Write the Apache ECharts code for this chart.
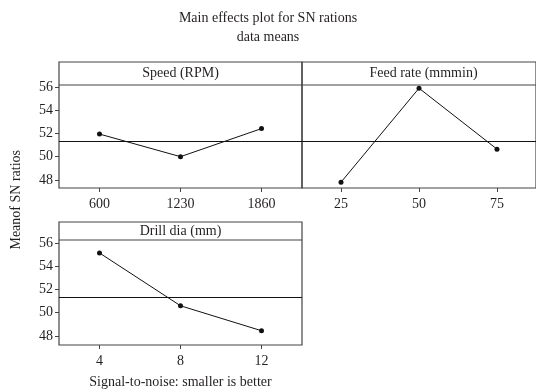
<!DOCTYPE html>
<html>
<head>
<meta charset="utf-8">
<script src="https://cdn.jsdelivr.net/npm/echarts@6/dist/echarts.min.js"></script>
<style>html,body{margin:0;padding:0;background:#fff}#c{width:536px;height:391px}</style>
</head>
<body>
<div id="c"></div>
<script>
// Data
const speedCats = ['600', '1230', '1860'];
const speedVals = [51.95, 50.0, 52.42];
const feedCats = ['25', '50', '75'];
const feedVals = [47.8, 55.9, 50.65];
const drillCats = ['4', '8', '12'];
const drillVals = [55.15, 50.6, 48.45];
const yTicks = [48, 50, 52, 54, 56];
const grandMean = 51.3;
const panelTitles = ['Speed (RPM)', 'Feed rate (mmmin)', 'Drill dia (mm)'];

const FONT = '"Liberation Serif", "DejaVu Serif", serif';
const TXT = '#231f20';
const BORDER = '#444';

// each grid covers the whole panel box, header strip included
const grids = [
  {left: 59, top: 62, width: 243, height: 126},
  {left: 302, top: 62, width: 243, height: 126},
  {left: 59, top: 222, width: 243, height: 123}
];
const yRanges = [[47.3, 58.16], [47.3, 58.16], [47.22, 57.82]];
const headerH = [23, 23, 18];
const cats = [speedCats, feedCats, drillCats];
const vals = [speedVals, feedVals, drillVals];

const chart = echarts.init(document.getElementById('c'), null, {renderer: 'canvas'});

const yAxes = yRanges.map((r, i) => ({
  type: 'value', gridIndex: i, min: r[0], max: r[1],
  axisLine: {show: false},
  axisTick: {show: i === 2, length: 4, customValues: yTicks.slice(), lineStyle: {color: BORDER}},
  axisLabel: {show: i === 2, customValues: yTicks.slice(), hideOverlap: false,
    fontFamily: FONT, fontSize: 14, color: TXT, margin: 6},
  splitLine: {show: false}
}));
// label/tick axis for the top-left panel
yAxes.push({
  type: 'value', gridIndex: 0, min: yRanges[0][0], max: yRanges[0][1], position: 'left',
  axisLine: {show: false},
  axisTick: {show: true, length: 4, customValues: yTicks.slice().reverse(), lineStyle: {color: BORDER}},
  axisLabel: {show: true, customValues: yTicks.slice().reverse(), hideOverlap: false,
    fontFamily: FONT, fontSize: 14, color: TXT, margin: 6},
  splitLine: {show: false}
});

const option = {
  backgroundColor: '#fff',
  animation: false,
  title: {
    text: 'Main effects plot for SN rations\ndata means',
    left: 'center', top: 4,
    textStyle: {fontFamily: FONT, fontSize: 14, fontWeight: 'normal', color: TXT, lineHeight: 19}
  },
  grid: grids.map(g => Object.assign({show: true, borderColor: BORDER, borderWidth: 1.2, backgroundColor: 'transparent'}, g)),
  xAxis: cats.map((c, i) => ({
    type: 'category', gridIndex: i, data: c, boundaryGap: true,
    axisLine: {show: false},
    axisTick: {show: true, alignWithLabel: true, length: 4, lineStyle: {color: BORDER}},
    axisLabel: {fontFamily: FONT, fontSize: 14, color: TXT, margin: 9},
    splitLine: {show: false},
    name: i === 2 ? 'Signal-to-noise: smaller is better' : '',
    nameLocation: 'middle', nameGap: 30,
    nameTextStyle: {fontFamily: FONT, fontSize: 14, color: TXT}
  })),
  yAxis: yAxes,
  series: vals.map((v, i) => ({
    type: 'line', xAxisIndex: i, yAxisIndex: i, data: v,
    symbol: 'circle', symbolSize: 5,
    itemStyle: {color: '#111'},
    lineStyle: {color: '#111', width: 1},
    markLine: {
      silent: true, symbol: 'none',
      label: {show: false},
      lineStyle: {color: '#111', width: 1.2, type: 'solid'},
      data: [{yAxis: grandMean}]
    }
  })),
  graphic: grids.map((g, i) => ({
    type: 'group', x: g.left, y: g.top,
    children: [
      {type: 'line', shape: {x1: 0, y1: headerH[i], x2: g.width, y2: headerH[i]},
       style: {stroke: BORDER, lineWidth: 1.2}},
      {type: 'text', x: 121.5, y: headerH[i] / 2,
       style: {text: panelTitles[i], font: '14px ' + FONT, fill: TXT, align: 'center', verticalAlign: 'middle'}}
    ]
  })).concat([{
    type: 'text', left: 9, top: 150, rotation: Math.PI / 2,
    style: {text: 'Meanof SN ratios', font: '14px ' + FONT, fill: TXT}
  }])
};
chart.setOption(option);
</script>
</body>
</html>
